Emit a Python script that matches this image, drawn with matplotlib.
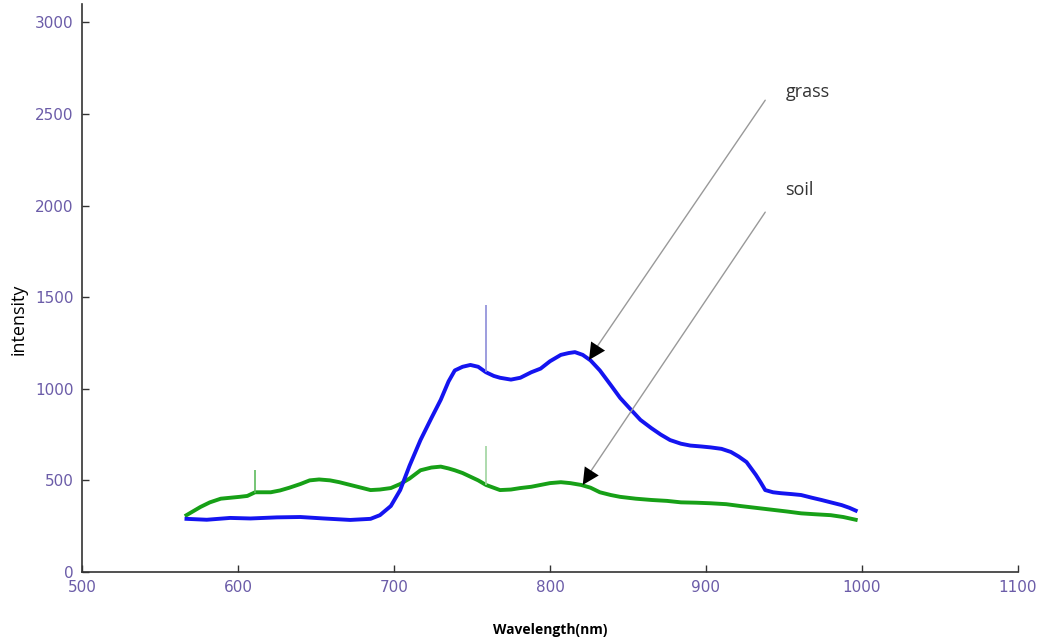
import numpy as np
from matplotlib import pyplot as plt

# grass spectrum (blue)
grass_wl = [567, 580, 595, 608, 625, 640, 655, 672, 685, 691, 698, 704, 710, 717, 724, 730,
            735, 739, 744, 749, 754, 759, 764, 768, 775, 781, 788, 794, 800, 807,
            812, 816, 821, 826, 832, 839, 845, 852, 858, 865, 871, 877, 884, 890, 897, 903,
            910, 916, 921, 926, 929, 932, 935, 938, 943, 948, 955, 961, 968, 974, 980, 987,
            992, 996]
grass_int = [290, 285, 295, 292, 298, 300, 292, 284, 290, 310, 360, 447, 580, 720, 840, 940,
             1040, 1100, 1120, 1130, 1120, 1090, 1070, 1060, 1050, 1060, 1090, 1110, 1150, 1185,
             1195, 1200, 1185, 1155, 1100, 1020, 950, 885, 830, 785, 750, 720, 700, 690, 685, 680,
             672, 655, 630, 600, 565, 530, 490, 447, 435, 430, 425, 420, 405, 393, 380, 365,
             350, 335]

# soil spectrum (green)
soil_wl = [567, 572, 576, 582, 589, 595, 601, 606, 611, 616, 621, 627, 633, 640,
           646, 652, 659, 665, 672, 679, 685, 691, 698, 704, 710, 717, 724, 730, 735, 739,
           744, 749, 754, 759, 768, 775, 781, 788, 794, 800, 807, 813, 820, 826,
           832, 839, 845, 855, 865, 875, 884, 894, 903, 913, 922, 932, 942, 952, 961, 970,
           980, 988, 996]
soil_int = [310, 335, 355, 380, 400, 405, 410, 415, 435, 435, 435, 445, 460, 480,
            500, 505, 500, 490, 475, 460, 447, 450, 458, 480, 510, 555, 570, 575, 565, 555,
            540, 520, 500, 475, 447, 450, 458, 465, 475, 485, 490, 485, 475, 460,
            435, 420, 410, 400, 393, 388, 380, 378, 375, 370, 360, 350, 340, 330, 320, 315,
            310, 300, 285]

# narrow spikes (wavelength, base, top)
spike_wl = [759, 759, 611]
spike_base = [1090, 475, 430]
spike_top = [1455, 690, 555]
spike_col = ['#8c8cd8', '#9fd49f', '#5dbb5d']

x_ticks = [500, 600, 700, 800, 900, 1000, 1100]
y_ticks = [0, 500, 1000, 1500, 2000, 2500, 3000]

fig = plt.figure(figsize=(10.4, 6.39), dpi=100)
ax = fig.add_axes([0.0788, 0.1049, 0.9000, 0.8888])

ax.plot(soil_wl, soil_int, color='#17a017', lw=2.8, solid_joinstyle='round')
ax.plot(grass_wl, grass_int, color='#1414f0', lw=2.8, solid_joinstyle='round')
ax.vlines(spike_wl, spike_base, spike_top, colors=spike_col, lw=1.2)

ax.set_xlim(500, 1100)
ax.set_ylim(0, 3100)
ax.set_xticks(x_ticks)
ax.set_yticks(y_ticks)

tick_font = ['Liberation Sans Narrow', 'DejaVu Sans']
for lab in ax.get_xticklabels() + ax.get_yticklabels():
    lab.set_family(tick_font)
    lab.set_fontsize(11)
    lab.set_color('#6b5ca8')

ax.tick_params(direction='in', length=5, width=1, color='#333333', pad=6)
for side in ['top', 'right']:
    ax.spines[side].set_visible(False)
for side in ['left', 'bottom']:
    ax.spines[side].set_color('#333333')
    ax.spines[side].set_linewidth(1.2)

ax.set_xlabel('Wavelength(nm)', fontsize=10, fontweight='bold', family=['Open Sans', 'DejaVu Sans'])
ax.xaxis.label.set_va('center')
ax.xaxis.set_label_coords(0.5, -0.102)
ax.set_ylabel('intensity', fontsize=13, family=['Open Sans', 'DejaVu Sans'])
ax.yaxis.label.set_va('center')
ax.yaxis.set_label_coords(-0.068, 0.444)

arrow = dict(arrowstyle='-', color='#999999', lw=1, shrinkA=0, shrinkB=0)
ax.annotate('', xy=(827, 1190), xytext=(938, 2575), arrowprops=arrow)
ax.annotate('', xy=(823, 510), xytext=(938, 1964), arrowprops=arrow)
# black arrowheads at the ends of the grey shafts
head = dict(arrowstyle='-|>', color='black', lw=0, mutation_scale=30, shrinkA=0, shrinkB=0)
ax.annotate('', xy=(825, 1157), xytext=(836, 1300), arrowprops=head)
ax.annotate('', xy=(821, 475), xytext=(832, 620), arrowprops=head)

ax.text(951, 2619, 'grass', fontsize=13, family=['Open Sans', 'DejaVu Sans'], color='#333333', va='center')
ax.text(951, 2084, 'soil', fontsize=13, family=['Open Sans', 'DejaVu Sans'], color='#333333', va='center')

fig.savefig('out.png', dpi=100)
